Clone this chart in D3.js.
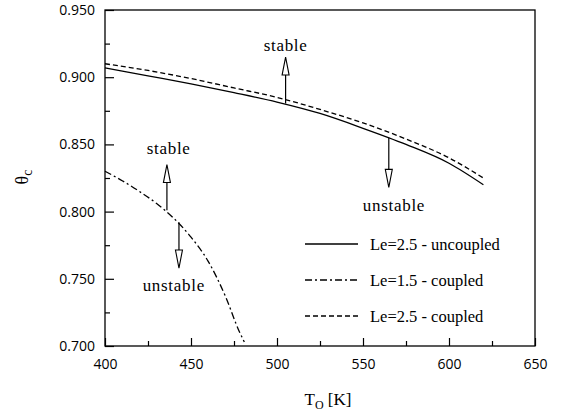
<!DOCTYPE html>
<html>
<head>
<meta charset="utf-8">
<script src="https://cdn.jsdelivr.net/npm/d3@7"></script>
<style>
  body { margin: 0; background: #fff; }
  svg { display: block; }
</style>
</head>
<body>
<div id="chart"></div>
<script>
// ---- data ----
const tempsUncoupled25 = [400, 425, 450, 475, 500, 525, 550, 575, 600, 620];
const thetaUncoupled25 = [0.907, 0.901, 0.895, 0.8885, 0.8815, 0.873, 0.862, 0.850, 0.836, 0.820];

const tempsCoupled25 = [400, 425, 450, 475, 500, 525, 550, 575, 600, 620];
const thetaCoupled25 = [0.910, 0.905, 0.899, 0.892, 0.885, 0.876, 0.866, 0.854, 0.840, 0.825];

const tempsCoupled15 = [400, 410, 420, 430, 440, 450, 460, 470, 478, 481];
const thetaCoupled15 = [0.830, 0.823, 0.815, 0.806, 0.795, 0.781, 0.763, 0.737, 0.711, 0.703];

const xTicks = [400, 450, 500, 550, 600, 650];
const xMinor = [425, 475, 525, 575, 625];
const yTicks = [0.700, 0.750, 0.800, 0.850, 0.900, 0.950];
const yMinor = [0.725, 0.775, 0.825, 0.875, 0.925];

// stability arrows: temperature, start value, tip value
const arrows = [
  { t: 505, from: 0.8805, to: 0.915 },
  { t: 565, from: 0.855, to: 0.818 },
  { t: 436, from: 0.801, to: 0.835 },
  { t: 443, from: 0.792, to: 0.758 }
];
const arrowLabels = [
  { t: 505, v: 0.924, text: "stable" },
  { t: 568, v: 0.805, text: "unstable" },
  { t: 437, v: 0.8475, text: "stable" },
  { t: 440, v: 0.7455, text: "unstable" }
];

const legendItems = [
  { label: "Le=2.5 - uncoupled", dash: null },
  { label: "Le=1.5 - coupled", dash: "7,3,2,3" },
  { label: "Le=2.5 - coupled", dash: "5,3" }
];

// ---- layout ----
const width = 566;
const height = 412;
const margin = { top: 10, right: 31, bottom: 66, left: 105 };

const svg = d3.select("#chart")
  .append("svg")
  .attr("width", width)
  .attr("height", height);

const x = d3.scaleLinear()
  .domain([400, 650])
  .range([margin.left, width - margin.right]);

const y = d3.scaleLinear()
  .domain([0.7, 0.95])
  .range([height - margin.bottom, margin.top]);

const tickFont = "'Open Sans', 'DejaVu Sans', sans-serif";
const serif = "'Liberation Serif', 'DejaVu Serif', serif";

// frame
svg.append("rect")
  .attr("x", x(400))
  .attr("y", y(0.95))
  .attr("width", x(650) - x(400))
  .attr("height", y(0.7) - y(0.95))
  .attr("fill", "none")
  .attr("stroke", "#000")
  .attr("stroke-width", 1.3);

// axes (ticks inward)
svg.append("g")
  .attr("transform", `translate(0,${y(0.7)})`)
  .call(d3.axisBottom(x).tickValues(xTicks).tickSizeInner(-8).tickSizeOuter(0).tickPadding(13));
svg.append("g")
  .attr("transform", `translate(0,${y(0.7)})`)
  .call(d3.axisBottom(x).tickValues(xMinor).tickSizeInner(-5).tickSizeOuter(0).tickFormat(""));

svg.append("g")
  .attr("transform", `translate(${x(400)},0)`)
  .call(d3.axisLeft(y).tickValues(yTicks).tickSizeInner(-9).tickSizeOuter(0).tickPadding(10)
    .tickFormat(d3.format(".3f")));
svg.append("g")
  .attr("transform", `translate(${x(400)},0)`)
  .call(d3.axisLeft(y).tickValues(yMinor).tickSizeInner(-5).tickSizeOuter(0).tickFormat(""));

svg.selectAll(".domain").remove();
svg.selectAll(".tick line").attr("stroke", "#000").attr("stroke-width", 1.2);
svg.selectAll(".tick text")
  .style("font-family", tickFont)
  .style("font-size", "14px")
  .attr("fill", "#000");

// axis titles
const xTitle = svg.append("text")
  .attr("x", 328)
  .attr("y", 405)
  .attr("text-anchor", "middle")
  .style("font-family", serif)
  .style("font-size", "17px");
xTitle.append("tspan").text("T");
xTitle.append("tspan").attr("dy", 4).style("font-size", "12px").text("O");
xTitle.append("tspan").attr("dy", -4).text(" [K]");

const yTitle = svg.append("text")
  .attr("transform", "translate(28,177) rotate(-90)")
  .attr("text-anchor", "middle")
  .style("font-family", serif)
  .style("font-size", "18px");
yTitle.append("tspan").text("θ");
yTitle.append("tspan").attr("dy", 4).style("font-size", "14px").text("c");

// curves
const line = d3.line()
  .x(d => x(d[0]))
  .y(d => y(d[1]))
  .curve(d3.curveMonotoneX);

const series = [
  { t: tempsUncoupled25, v: thetaUncoupled25, dash: null },
  { t: tempsCoupled25, v: thetaCoupled25, dash: "5,3" },
  { t: tempsCoupled15, v: thetaCoupled15, dash: "7,3,2,3" }
];

series.forEach(s => {
  svg.append("path")
    .datum(s.t.map((t, i) => [t, s.v[i]]))
    .attr("fill", "none")
    .attr("stroke", "#000")
    .attr("stroke-width", 1.3)
    .attr("stroke-dasharray", s.dash)
    .attr("d", line);
});

// arrows
const headLen = 18;
const headHalf = 3.5;
arrows.forEach(a => {
  const ax = x(a.t);
  const y0 = y(a.from);
  const tip = y(a.to);
  const dir = tip < y0 ? 1 : -1; // 1 = pointing up
  const base = tip + dir * headLen;
  svg.append("line")
    .attr("x1", ax).attr("x2", ax)
    .attr("y1", y0).attr("y2", base)
    .attr("stroke", "#000")
    .attr("stroke-width", 1.2);
  svg.append("path")
    .attr("d", `M${ax},${tip} L${ax - headHalf},${base} L${ax + headHalf},${base} Z`)
    .attr("fill", "#fff")
    .attr("stroke", "#000")
    .attr("stroke-width", 1.1);
});

svg.selectAll(".arrow-label")
  .data(arrowLabels)
  .enter()
  .append("text")
  .attr("class", "arrow-label")
  .attr("x", d => x(d.t))
  .attr("y", d => y(d.v))
  .attr("dy", "0.35em")
  .attr("text-anchor", "middle")
  .style("font-family", serif)
  .style("font-size", "17px")
  .style("letter-spacing", "0.7px")
  .text(d => d.text);

// legend
const legend = svg.append("g").attr("transform", "translate(305,244)");
legendItems.forEach((d, i) => {
  const g = legend.append("g").attr("transform", `translate(0,${i * 36})`);
  g.append("line")
    .attr("x1", 0).attr("x2", 53)
    .attr("y1", 0).attr("y2", 0)
    .attr("stroke", "#000")
    .attr("stroke-width", 1.3)
    .attr("stroke-dasharray", d.dash);
  g.append("text")
    .attr("x", 65)
    .attr("y", 0)
    .attr("dy", "0.35em")
    .style("font-family", serif)
    .style("font-size", "16.5px")
    .text(d.label);
});
</script>
</body>
</html>
